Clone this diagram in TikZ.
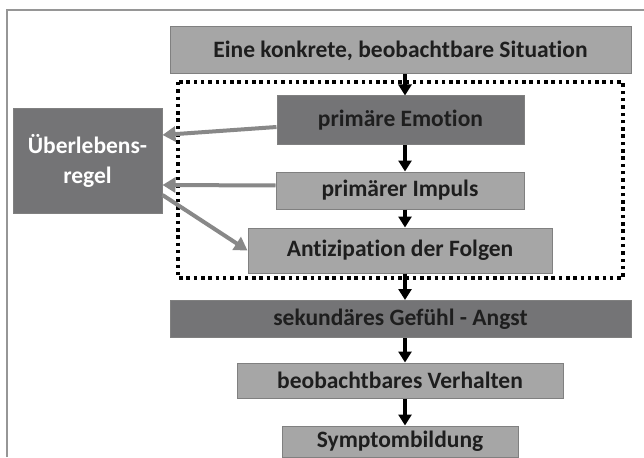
\documentclass[tikz,border=0pt]{standalone}
\usepackage{fontspec}
\setmainfont{Carlito}[Ligatures=NoCommon]
\usetikzlibrary{arrows.meta}
\definecolor{lg}{RGB}{166,166,166}
\definecolor{dg}{RGB}{116,116,118}
\definecolor{bd}{RGB}{128,128,128}
\definecolor{txt}{RGB}{30,30,30}
\definecolor{garrow}{RGB}{136,136,136}
\definecolor{framec}{RGB}{150,150,150}
\begin{document}
\begin{tikzpicture}[x=1pt,y=-1pt,
 box/.style={draw=bd, line width=1pt, inner sep=0pt, font=\fontsize{23.5}{30}\selectfont\bfseries, text=txt, anchor=center, align=center},
 light/.style={box, fill=lg},
 dark/.style={box, fill=dg},
 blk/.style={line width=3.5pt, black, -{Triangle[length=11pt,width=13pt]}},
 garr/.style={line width=4pt, draw=garrow, -{Triangle[length=13pt,width=15pt,fill=garrow]}}]
\useasboundingbox (0,0) rectangle (644,457);
\fill[white] (0,0) rectangle (644,457);
\draw[framec, line width=2pt] (7,457) -- (7,10) -- (644,10);
\draw[black, line width=3.5pt, dash pattern=on 3.5pt off 3.8pt] (178,82) rectangle (623,278);

\node[light, minimum width=461pt, minimum height=47pt] (sit) at (400.5,50.5) {Eine konkrete, beobachtbare Situation};
\node[dark, minimum width=247pt, minimum height=49pt] (emo) at (400.5,120.5) {primäre Emotion};
\node[light, minimum width=248pt, minimum height=37pt] (imp) at (400,190.5) {primärer Impuls};
\node[light, minimum width=304pt, minimum height=45pt] (ant) at (400,250.5) {Antizipation der Folgen};
\node[dark, minimum width=461pt, minimum height=37pt] (sek) at (400.5,319) {sekundäres Gefühl - Angst};
\node[light, minimum width=326pt, minimum height=35pt] (beo) at (400,380.5) {beobachtbares Verhalten};
\node[light, minimum width=236pt, minimum height=31pt] (sym) at (400,441.5) {Symptombildung};
\node[dark, text=white, minimum width=149pt, minimum height=104pt] (ub) at (87.5,161) {Überlebens-\\regel};

\coordinate (col) at (405,0);
\draw[blk] (sit.south -| col) -- (emo.north -| col);
\draw[blk] (emo.south -| col) -- (imp.north -| col);
\draw[blk] (imp.south -| col) -- (ant.north -| col);
\draw[blk] (ant.south -| col) -- (sek.north -| col);
\draw[blk] (sek.south -| col) -- (beo.north -| col);
\draw[blk] (beo.south -| col) -- (sym.north -| col);

\draw[garr] ([yshift=-6.5pt]emo.west) -- ([yshift=26pt]ub.east);
\draw[garr] ([yshift=5pt]imp.west) -- ([yshift=-24pt]ub.east);
\draw[garr] ([yshift=-34pt]ub.east) -- (ant.west);
\end{tikzpicture}
\end{document}
